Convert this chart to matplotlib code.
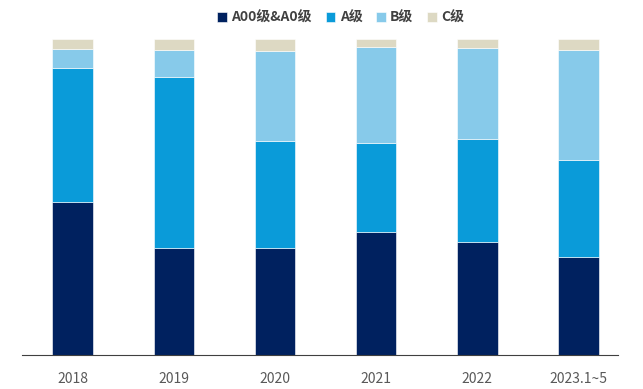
import matplotlib.pyplot as plt
import numpy as np

plt.rcParams['font.family'] = ['Noto Sans CJK SC', 'DejaVu Sans']

# Share of sales by vehicle class (%)
years = ['2018', '2019', '2020', '2021', '2022', '2023.1~5']
a00_a0 = [48.4, 33.9, 33.9, 38.9, 35.8, 31.0]
a_class = [42.4, 54.1, 33.8, 28.2, 32.6, 30.7]
b_class = [6.1, 8.5, 28.5, 30.5, 28.8, 34.8]
c_class = [3.1, 3.5, 3.8, 2.4, 2.8, 3.5]

labels = ['A00级&A0级', 'A级', 'B级', 'C级']
colors = ['#00215F', '#0A9BD9', '#87CAEA', '#DDD9C3']

fig = plt.figure(figsize=(6.43, 3.89), dpi=100)
ax = fig.add_axes([22 / 643, 1 - 355 / 389, 596 / 643, 316 / 389])

x = np.arange(len(years))
bottom = np.zeros(len(years))
for vals, lab, col in zip([a00_a0, a_class, b_class, c_class], labels, colors):
    ax.bar(x, vals, width=0.4, bottom=bottom, color=col, label=lab,
           edgecolor='white', linewidth=0.4)
    bottom += np.array(vals)

ax.set_ylim(0, 100)
ax.set_xlim(-0.5, 5.39)
ax.set_xticks(x)
ax.set_xticklabels(years, fontsize=10, color='#595959')
ax.tick_params(axis='x', length=0, pad=12)
ax.set_yticks([])
for side in ['top', 'right', 'left']:
    ax.spines[side].set_visible(False)
ax.spines['bottom'].set_color('#404040')
ax.spines['bottom'].set_linewidth(0.8)

leg = fig.legend(loc='upper center', bbox_to_anchor=(0.53, 1.005), ncol=4,
                 frameon=False, handlelength=0.7, handleheight=0.7,
                 handletextpad=0.3, columnspacing=1.0,
                 prop={'size': 10, 'weight': 'bold'})
for t in leg.get_texts():
    t.set_color('#404040')

fig.savefig('out.png', dpi=100)
